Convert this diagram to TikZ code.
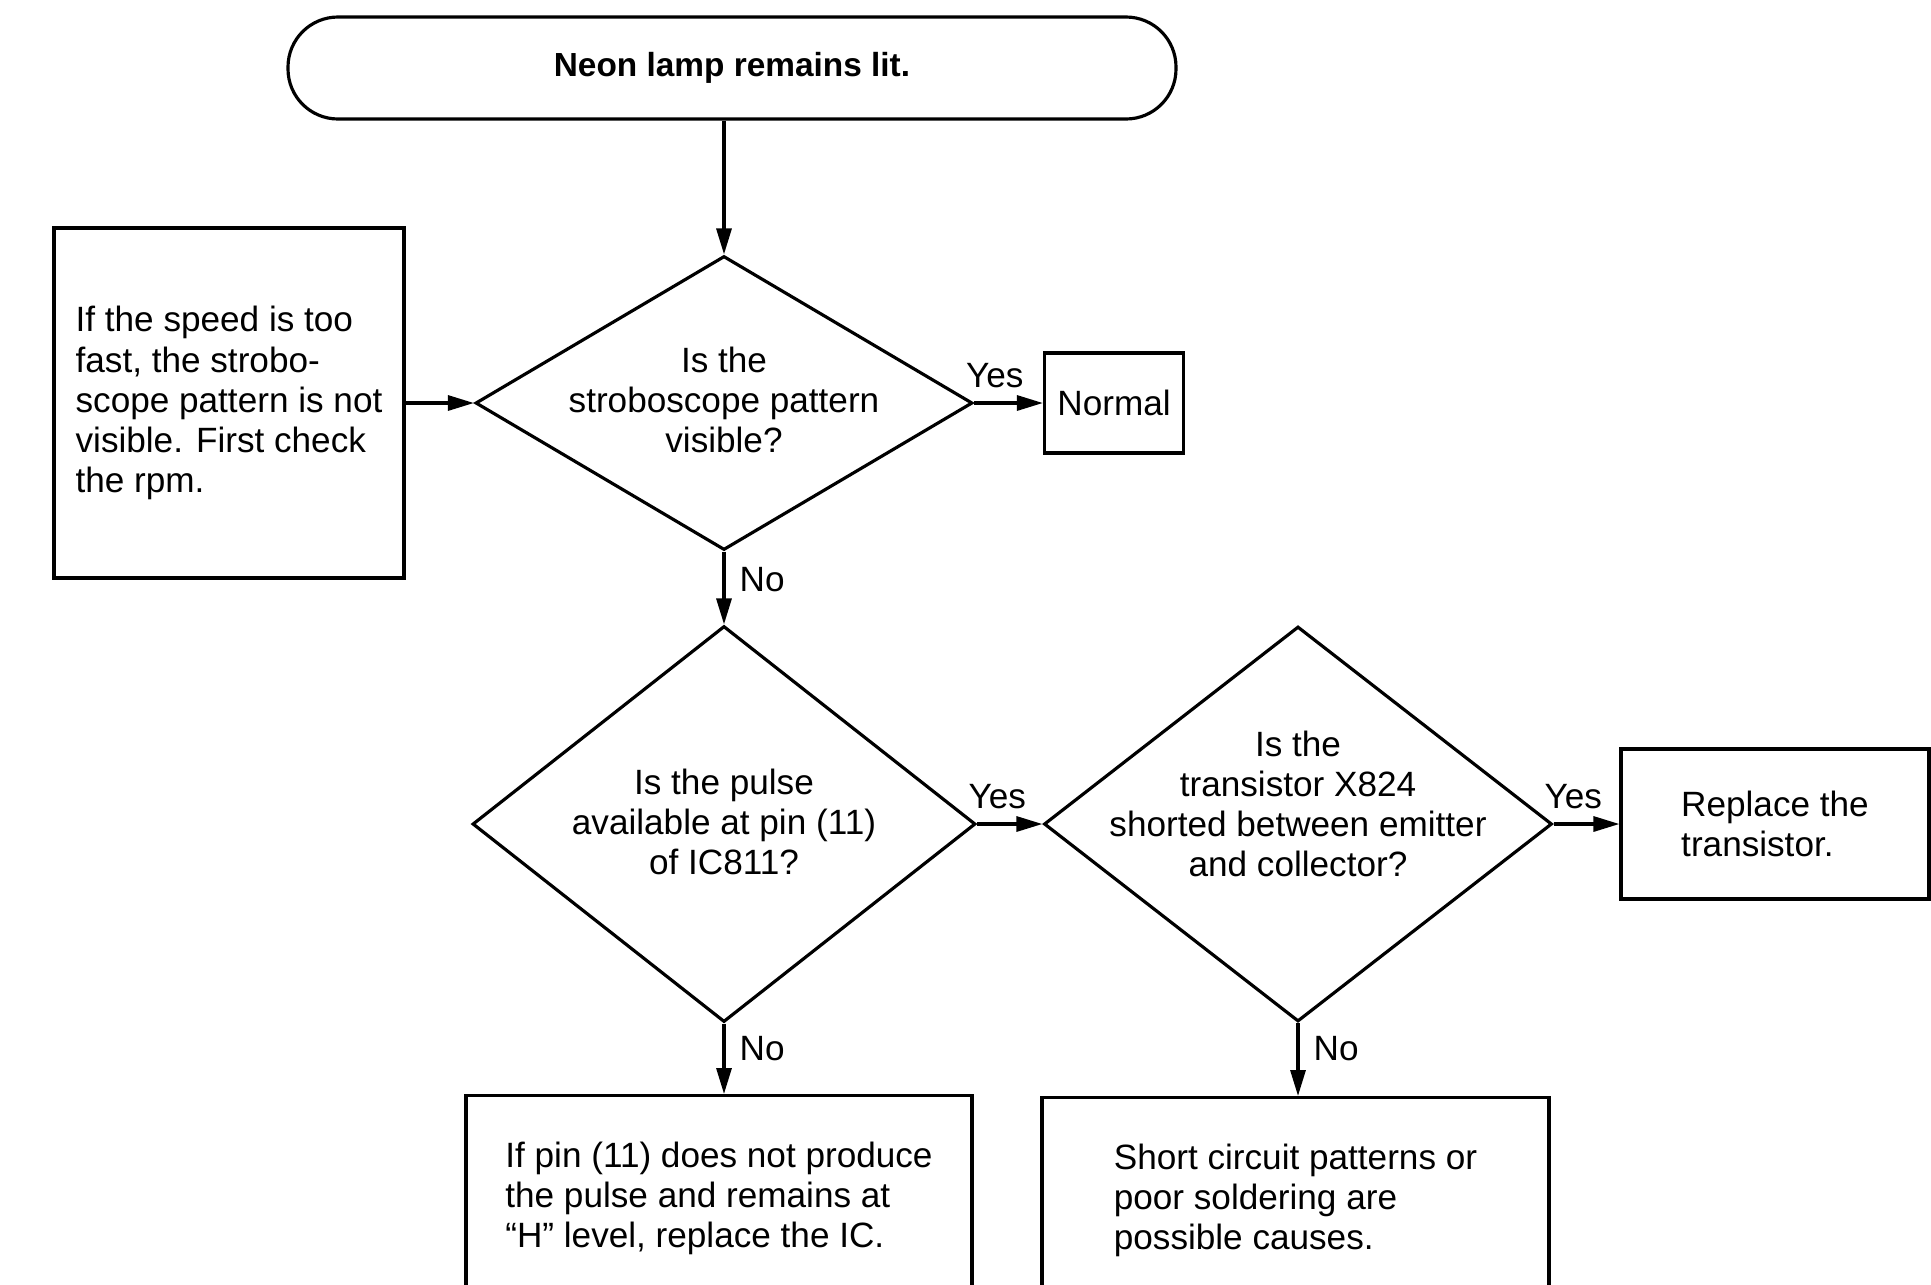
\documentclass[tikz,border=0pt]{standalone}
\usepackage{fontspec}
\setmainfont{Liberation Sans}
\usetikzlibrary{shapes.geometric,arrows.meta}

\begin{document}
\begin{tikzpicture}[
  >={Triangle[length=0.26cm,width=0.15cm]},
  line width=0.9pt,
  every node/.style={font=\fontsize{10}{11.4}\selectfont},
  terminal/.style={draw, rectangle, rounded corners=0.5cm, minimum width=8.88cm, minimum height=1.02cm, font=\fontsize{9.5}{11.4}\selectfont\bfseries},
  decision/.style={draw, diamond, inner sep=0pt},
  qtext/.style={align=center, inner sep=0pt},
  box/.style={draw, rectangle, align=left},
  yesno/.style={inner sep=4pt}
]
% keep the page size of the scan
\clip (0,0) rectangle (19.31,-12.84);

% start of the chart
\node[terminal] (lamp) at (7.32,-0.68) {Neon lamp remains lit.};

% first question and its side notes
\node[decision, minimum width=4.97cm, minimum height=2.94cm] (strobe) at (7.24,-4.03) {};
\node[qtext] at (7.24,-4.00) {Is the\\stroboscope pattern\\visible?};
\node[box, minimum width=3.5cm, minimum height=3.5cm] (speed) at (2.29,-4.03) {If the speed is too\\fast, the strobo-\\scope pattern is not\\visible. First check\\the rpm.};
\node[box, minimum width=1.39cm, minimum height=1.0cm, inner sep=1pt] (normal) at (11.14,-4.03) {Normal};

% second row of questions
\node[decision, minimum width=5.03cm, minimum height=3.96cm] (pulse) at (7.24,-8.24) {};
\node[qtext] at (7.24,-8.22) {Is the pulse\\available at pin (11)\\of IC811?};
\node[decision, minimum width=5.08cm, minimum height=3.95cm] (short) at (12.98,-8.24) {};
\node[qtext] at (12.98,-8.04) {Is the\\transistor X824\\shorted between emitter\\and collector?};
\node[box, minimum width=3.08cm, minimum height=1.5cm] (replace) at (17.75,-8.24) {Replace the\\transistor.};

% the two repair notes at the bottom
\node[box, anchor=north, minimum width=5.06cm, minimum height=2.06cm] (fixic) at (7.19,-10.94) {If pin (11) does not produce\\the pulse and remains at\\``H'' level, replace the IC.};
\node[box, anchor=north, minimum width=5.07cm, minimum height=2.06cm] (fixpcb) at (12.955,-10.96) {Short circuit patterns or\\poor soldering are\\possible causes.};

% connectors
\draw[->] (strobe.north |- lamp.south) -- (strobe.north);
\draw[->] (speed.east) -- (strobe.west);
\draw[->] (strobe.east) -- node[yesno, above, pos=0.3] {Yes} (normal.west);
\draw[->] (strobe.south) -- node[yesno, right, pos=0.38] {No} (pulse.north);
\draw[->] (pulse.east) -- node[yesno, above, pos=0.31] {Yes} (short.west);
\draw[->] (short.east) -- node[yesno, above, pos=0.3] {Yes} (replace.west);
\draw[->] (pulse.south) -- node[yesno, right, pos=0.35] {No} (pulse.south |- fixic.north);
\draw[->] (short.south) -- node[yesno, right, pos=0.35] {No} (short.south |- fixpcb.north);

\end{tikzpicture}
\end{document}
